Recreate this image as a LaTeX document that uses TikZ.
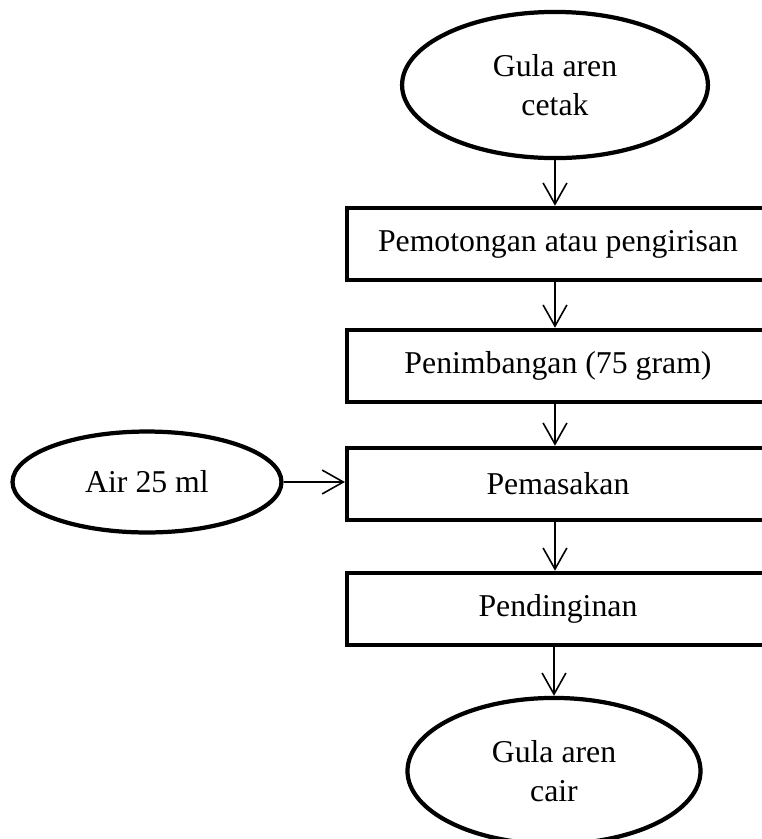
\documentclass[tikz,border=0pt]{standalone}
\usepackage{fontspec}
\setmainfont{Liberation Serif}
\usetikzlibrary{arrows.meta,shapes.geometric}

\begin{document}
\begin{tikzpicture}[>={Straight Barb[length=8pt,width=9pt]}, x=0.01327cm, y=-0.01327cm,
  every node/.style={font=\fontsize{12}{14.5}\selectfont, align=center},
  term/.style={ellipse, draw, line width=1.6pt, inner sep=0pt},
  proc/.style={rectangle, draw, line width=1.6pt, minimum width=5.6cm, minimum height=0.96cm, inner sep=0pt},
  edge/.style={->, line width=0.6pt}
]
\useasboundingbox (0,0) rectangle (761,839);
\node[term, minimum width=4.06cm, minimum height=1.94cm] (n0) at (555,85) {Gula aren\\cetak};
\node[proc] (n1) at (558,244) {Pemotongan atau pengirisan};
\node[proc] (n2) at (558,366) {Penimbangan (75 gram)};
\node[proc] (n3) at (558,484) {Pemasakan};
\node[proc] (n4) at (558,609) {Pendinginan};
\node[term, minimum width=3.89cm, minimum height=1.94cm] (n5) at (554,771) {Gula aren\\cair};
\node[term, minimum width=3.57cm, minimum height=1.34cm] (n6) at (147,482) {Air 25 ml};
\draw[edge] (n0.south) -- (n0.south |- n1.north);
\draw[edge] (n0.south |- n1.south) -- (n0.south |- n2.north);
\draw[edge] (n0.south |- n2.south) -- (n0.south |- n3.north);
\draw[edge] (n0.south |- n3.south) -- (n0.south |- n4.north);
\draw[edge] (n5.north |- n4.south) -- (n5.north);
\draw[edge] (n6.east) -- (n6.east -| n3.west);
\end{tikzpicture}
\end{document}
